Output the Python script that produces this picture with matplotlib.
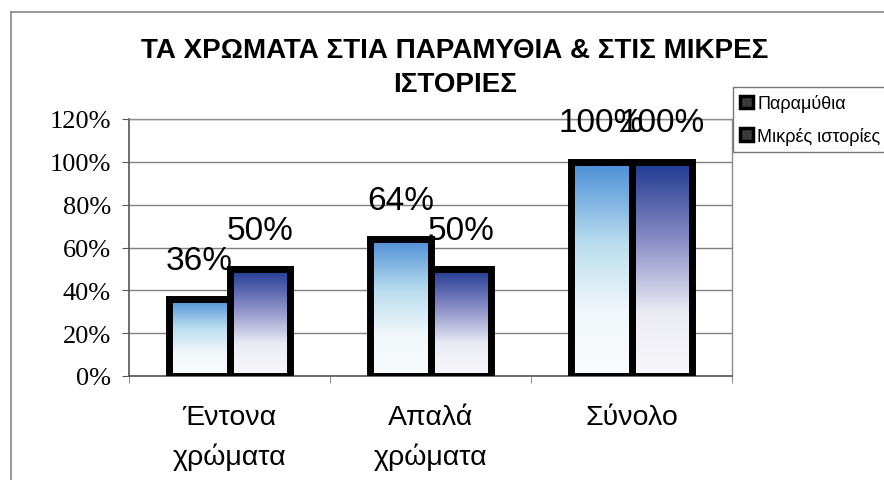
import numpy as np
import matplotlib
matplotlib.use('Agg')
import matplotlib.pyplot as plt
from matplotlib.colors import LinearSegmentedColormap
from matplotlib.patches import Patch
from matplotlib.lines import Line2D

# ---------- data ----------
categories = ['Έντονα\nχρώματα', 'Απαλά\nχρώματα', 'Σύνολο']
paramythia = [0.36, 0.64, 1.00]        # Παραμύθια
mikres_istories = [0.50, 0.50, 1.00]   # Μικρές ιστορίες
series_labels = ['Παραμύθια', 'Μικρές ιστορίες']
y_ticks = [0, 0.2, 0.4, 0.6, 0.8, 1.0, 1.2]
title = 'ΤΑ ΧΡΩΜΑΤΑ ΣΤΙΑ ΠΑΡΑΜΥΘΙΑ & ΣΤΙΣ ΜΙΚΡΕΣ\nΙΣΤΟΡΙΕΣ'

# gradient colours (bottom -> top)
grad_light = ['#fafcfd', '#f1f7fa', '#b9ddef', '#4a8cd6']
grad_dark = ['#f8f8fb', '#ebebf4', '#8d90c8', '#1e3891']

sans = 'Liberation Sans'
serif = 'Liberation Serif'

fig = plt.figure(figsize=(8.84, 4.81), dpi=100)
ax = fig.add_axes([129 / 884, 1 - 377 / 481, (732 - 129) / 884, (377 - 120) / 481])

x = np.arange(len(categories))
width = 0.3

ax.set_axisbelow(True)
ax.yaxis.grid(True, color='#7f7f7f', linewidth=1.0)

def gradient_bars(xpos, values, colors):
    bars = ax.bar(xpos, values, width, facecolor='none', edgecolor='black',
                  linewidth=5, zorder=3)
    cmap = LinearSegmentedColormap.from_list('g', list(zip([0, 0.3, 0.62, 1.0], colors)))
    grad = np.linspace(0, 1, 256).reshape(-1, 1)
    for b in bars:
        x0, w, h = b.get_x(), b.get_width(), b.get_height()
        im = ax.imshow(grad, extent=[x0, x0 + w, 0, h], origin='lower', cmap=cmap,
                       aspect='auto', zorder=2.5, interpolation='bilinear')
        im.set_clip_path(b)
    return bars

bars1 = gradient_bars(x - width / 2, paramythia, grad_light)
bars2 = gradient_bars(x + width / 2, mikres_istories, grad_dark)

# data labels
for bars, vals in [(bars1, paramythia), (bars2, mikres_istories)]:
    for b, v in zip(bars, vals):
        ax.annotate(f'{int(round(v * 100))}%', (b.get_x() + b.get_width() / 2, v),
                    xytext=(0, 28), textcoords='offset points', ha='center', va='center',
                    fontsize=24, family=sans, zorder=5)

ax.set_xlim(-0.5, len(categories) - 0.5)
ax.set_ylim(0, 1.2)

# y axis
ax.set_yticks(y_ticks)
ax.set_yticklabels([f'{int(round(t * 100))}%' for t in y_ticks], family=serif, fontsize=19)
ax.tick_params(axis='y', length=5, color='#555555', pad=8)

# x axis: labels at centres, ticks between groups
ax.set_xticks(x)
ax.set_xticklabels(categories, family=sans, fontsize=20.5, linespacing=1.6)
ax.tick_params(axis='x', which='major', length=0, pad=20)
ax.set_xticks(np.arange(len(categories) + 1) - 0.5, minor=True)
ax.tick_params(axis='x', which='minor', length=5, color='#777777')

for s in ['top', 'right']:
    ax.spines[s].set_color('#8c8c8c')
    ax.spines[s].set_linewidth(1.0)
for s in ['left', 'bottom']:
    ax.spines[s].set_color('#555555')
    ax.spines[s].set_linewidth(1.2)

# title
fig.text(455 / 884, 1 - 68 / 481, title, ha='center', va='center', multialignment='center',
         fontsize=20, fontweight='bold', family=sans, linespacing=1.45)

# legend
handles = [Patch(facecolor='#3a3a3a', edgecolor='black', linewidth=2.5),
           Patch(facecolor='#3a3a3a', edgecolor='black', linewidth=2.5)]
leg = fig.legend(handles, series_labels, loc='upper left',
                 bbox_to_anchor=(733 / 884, 1 - 88 / 481), borderaxespad=0,
                 prop={'family': sans, 'size': 13}, handlelength=0.7, handleheight=0.7,
                 handletextpad=0.25, labelspacing=0.8, borderpad=0.4,
                 fancybox=False, framealpha=1, edgecolor='#777777')
leg.get_frame().set_linewidth(1.0)

# outer chart frame
fig.add_artist(Line2D([11 / 884, 11 / 884], [0, 1 - 13 / 481], transform=fig.transFigure,
                      color='#888888', linewidth=1.2))
fig.add_artist(Line2D([11 / 884, 1], [1 - 13 / 481, 1 - 13 / 481], transform=fig.transFigure,
                      color='#888888', linewidth=1.2))

fig.savefig('out.png', dpi=100, facecolor='white')
